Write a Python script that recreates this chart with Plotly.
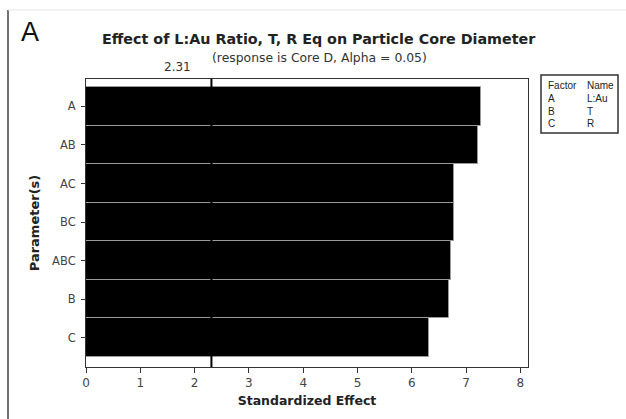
import plotly.graph_objects as go

# Standardized effects per term (Pareto chart, largest at top)
terms = ["A", "AB", "AC", "BC", "ABC", "B", "C"]
effects = [7.28, 7.21, 6.77, 6.77, 6.72, 6.68, 6.31]
critical_value = 2.31

# Factor key
factor_codes = ["A", "B", "C"]
factor_names = ["L:Au", "T", "R"]

x_ticks = [0, 1, 2, 3, 4, 5, 6, 7, 8]

W, H = 626, 419
L, R, T, B = 86, 98, 79, 52
PW, PH = W - L - R, H - T - B


def px(x):
    return (x - L) / PW


def py(y):
    return (H - B - y) / PH


FONT = "DejaVu Sans"

order = list(reversed(terms))
vals = list(reversed(effects))

fig = go.Figure(
    go.Bar(
        x=vals,
        y=order,
        orientation="h",
        marker=dict(color="black", line=dict(color="#9a9a9a", width=1)),
        width=1.0,
        hoverinfo="skip",
    )
)

fig.update_layout(
    width=W,
    height=H,
    margin=dict(l=L, r=R, t=T, b=B),
    paper_bgcolor="white",
    plot_bgcolor="white",
    showlegend=False,
    bargap=0,
    font=dict(family=FONT, color="#333"),
)

fig.update_xaxes(
    range=[0, 8.14],
    tickvals=x_ticks,
    ticks="outside",
    ticklen=5,
    tickcolor="#333",
    showline=True,
    linecolor="#333",
    linewidth=1,
    mirror=True,
    showgrid=False,
    zeroline=False,
    tickfont=dict(size=12, color="#444"),
    title=dict(text="<b>Standardized Effect</b>", font=dict(size=12.5, color="#222"), standoff=6),
)

fig.update_yaxes(
    type="category",
    categoryorder="array",
    categoryarray=order,
    range=[-0.76, 6.71],
    ticks="outside",
    ticklen=4,
    tickcolor="#333",
    ticklabelstandoff=3,
    showline=True,
    linecolor="#333",
    linewidth=1,
    mirror=True,
    showgrid=False,
    tickfont=dict(size=11.5, color="#444"),
    title=dict(text="<b>Parameter(s)</b>", font=dict(size=13, color="#222"), standoff=9),
)

# Critical value reference line
fig.add_shape(
    type="line", xref="x", yref="paper",
    x0=critical_value, x1=critical_value, y0=0, y1=1,
    line=dict(color="black", width=2),
)
fig.add_annotation(
    x=critical_value, xref="x", y=py(67), yref="paper",
    text=f"{critical_value:.2f}", showarrow=False,
    xanchor="right", xshift=-18, yanchor="middle",
    font=dict(size=12, color="#333"),
)

# Titles
fig.add_annotation(
    x=px(319), y=py(39), xref="paper", yref="paper",
    text="<b>Effect of L:Au Ratio, T, R Eq on Particle Core Diameter</b>",
    showarrow=False, xanchor="center", yanchor="middle",
    font=dict(size=14.3, color="#222"),
)
fig.add_annotation(
    x=px(319), y=py(58), xref="paper", yref="paper",
    text="(response is Core D, Alpha = 0.05)",
    showarrow=False, xanchor="center", yanchor="middle",
    font=dict(size=12.4, color="#333"),
)

# Panel letter and outer frame lines
fig.add_annotation(
    x=px(30), y=py(32), xref="paper", yref="paper",
    text="A", showarrow=False, xanchor="center", yanchor="middle",
    font=dict(family="Liberation Sans", size=27, color="#111"),
)
fig.add_shape(type="line", xref="paper", yref="paper",
              x0=px(8), x1=px(8), y0=py(10), y1=py(419),
              line=dict(color="#444", width=1.5))
fig.add_shape(type="line", xref="paper", yref="paper",
              x0=px(8), x1=px(626), y0=py(10), y1=py(10),
              line=dict(color="#e4e4e4", width=1))

# Factor key box
fig.add_shape(type="rect", xref="paper", yref="paper",
              x0=px(541), x1=px(618), y0=py(75), y1=py(133),
              line=dict(color="#333", width=1.5), fillcolor="white")
rows_y = [85, 98, 111, 123]
KEY_FONT = dict(family="Liberation Sans", size=10, color="#222")
fig.add_annotation(x=px(546), y=py(rows_y[0]), xref="paper", yref="paper",
                   text="Factor", showarrow=False, xanchor="left", yanchor="middle",
                   font=KEY_FONT)
fig.add_annotation(x=px(585), y=py(rows_y[0]), xref="paper", yref="paper",
                   text="Name", showarrow=False, xanchor="left", yanchor="middle",
                   font=KEY_FONT)
for code, name, yy in zip(factor_codes, factor_names, rows_y[1:]):
    fig.add_annotation(x=px(546), y=py(yy), xref="paper", yref="paper",
                       text=code, showarrow=False, xanchor="left", yanchor="middle",
                       font=KEY_FONT)
    fig.add_annotation(x=px(585), y=py(yy), xref="paper", yref="paper",
                       text=name, showarrow=False, xanchor="left", yanchor="middle",
                       font=KEY_FONT)

fig.write_html("out.html")
